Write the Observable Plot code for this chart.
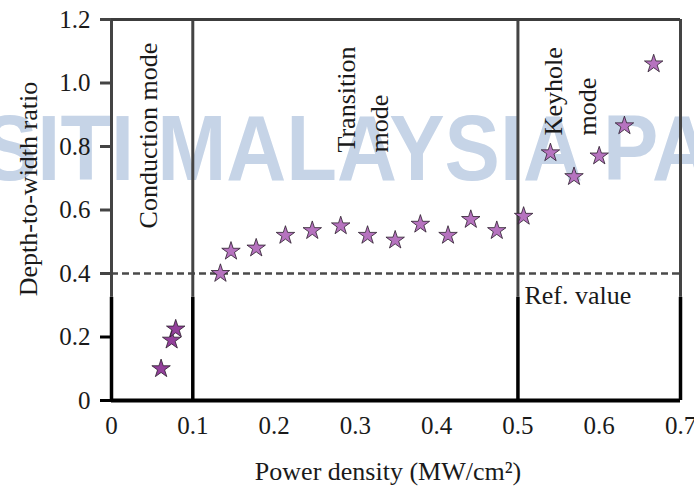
<!DOCTYPE html>
<html>
<head>
<meta charset="utf-8">
<script src="https://cdn.jsdelivr.net/npm/d3@7"></script>
<script src="https://cdn.jsdelivr.net/npm/@observablehq/plot@0.6"></script>
<style>
  html, body { margin: 0; padding: 0; background: #fff; }
  #chart { width: 694px; height: 487px; overflow: hidden; }
</style>
</head>
<body>
<div id="chart"></div>
<script>
// Depth-to-width ratio of the weld against laser power density, split by welding mode
const conductionPower = [0.061, 0.074, 0.079];
const conductionRatio = [0.10, 0.19, 0.225];

const transitionPower = [0.134, 0.147, 0.178, 0.214, 0.247, 0.282, 0.315, 0.349, 0.380, 0.414, 0.442, 0.474];
const transitionRatio = [0.40, 0.47, 0.48, 0.52, 0.535, 0.55, 0.52, 0.505, 0.555, 0.52, 0.57, 0.535];

const keyholePower = [0.507, 0.540, 0.569, 0.600, 0.631, 0.667];
const keyholeRatio = [0.58, 0.78, 0.705, 0.77, 0.865, 1.06];

// Mode boundaries (MW/cm²) and the reference depth-to-width ratio
const modeBounds = [0.1, 0.5];
const refValue = 0.4;

const xTicks = [0, 0.1, 0.2, 0.3, 0.4, 0.5, 0.6, 0.7];
const yTicks = [0, 0.2, 0.4, 0.6, 0.8, 1.0, 1.2];

const toRows = (xs, ys) => xs.map((p, i) => ({power: p, ratio: ys[i]}));
const conduction = toRows(conductionPower, conductionRatio);
const transition = toRows(transitionPower, transitionRatio);
const keyhole = toRows(keyholePower, keyholeRatio);

const xMin = xTicks[0], xMax = xTicks[xTicks.length - 1];
const yMax = yTicks[yTicks.length - 1];
const frameLines = [xMin, ...modeBounds, xMax];
const fmt = d => d === 0 ? "0" : d.toFixed(1);
const split = 0.325; // lower part of the vertical lines is drawn heavier

const starStyle = {x: "power", y: "ratio", symbol: "star", r: 5.8, stroke: "#2b1d2c", strokeWidth: 0.8};

const svg = Plot.plot({
  width: 694,
  height: 487,
  marginLeft: 111,
  marginRight: 14,
  marginTop: 19,
  marginBottom: 87,
  style: {fontFamily: "'Liberation Serif', 'Times New Roman', serif", color: "#1a1a1a", background: "#fff"},
  x: {domain: [xMin, xMax]},
  y: {domain: [0, yMax]},
  marks: [
    // reference ratio
    Plot.ruleY([refValue], {x1: xMin, x2: xMax, stroke: "#4a4a4a", strokeWidth: 2.5, strokeDasharray: "7,4"}),
    // frame and mode separators
    Plot.ruleX(frameLines, {y1: split, y2: yMax, stroke: "#444", strokeWidth: 3}),
    Plot.ruleX(frameLines, {y1: 0, y2: split, stroke: "#000", strokeWidth: 3.5}),
    Plot.ruleY([yMax], {x1: xMin, x2: xMax, stroke: "#3c3c3c", strokeWidth: 3}),
    Plot.ruleY([0], {x1: xMin, x2: xMax, stroke: "#000", strokeWidth: 4}),
    // axes
    Plot.axisY({
      ticks: yTicks, tickSize: 11, tickPadding: 10, tickFormat: fmt,
      stroke: d => d < 0.3 ? "#000" : "#444", strokeWidth: 3,
      fontSize: 25, label: null
    }),
    Plot.axisX({ticks: xTicks, tickSize: 0, tickPadding: 16, tickFormat: fmt, fontSize: 25, label: null}),
    // measurements
    Plot.dot(conduction, {...starStyle, fill: "#93409b"}),
    Plot.dot(transition, {...starStyle, fill: "#b673bf"}),
    Plot.dot(keyhole, {...starStyle, fill: "#b673bf"}),
    // mode annotations
    Plot.text(["Conduction mode"], {x: 0.046, y: 0.542, rotate: -90, textAnchor: "start", lineAnchor: "middle", fontSize: 26}),
    Plot.text(["Transition\nmode"], {x: 0.307, y: 0.781, rotate: -90, textAnchor: "start", lineAnchor: "middle", fontSize: 26, lineHeight: 1.28}),
    Plot.text(["Keyhole\nmode"], {x: 0.562, y: 0.835, rotate: -90, textAnchor: "start", lineAnchor: "middle", fontSize: 26, lineHeight: 1.28}),
    Plot.text(["Ref. value"], {x: 0.508, y: 0.331, textAnchor: "start", lineAnchor: "middle", fontSize: 26}),
    // axis titles
    Plot.text(["Depth-to-width ratio"], {frameAnchor: "left", textAnchor: "middle", lineAnchor: "middle", rotate: -90, dx: -83, dy: -21, fontSize: 26}),
    Plot.text(["Power density (MW/cm²)"], {frameAnchor: "bottom", textAnchor: "middle", lineAnchor: "middle", dx: -8, dy: 71, fontSize: 26})
  ]
});

// repository watermark behind the chart
d3.select(svg).insert("text", ":first-child")
  .attr("x", -18)
  .attr("y", 180)
  .attr("text-anchor", "start")
  .attr("textLength", 730)
  .attr("lengthAdjust", "spacingAndGlyphs")
  .attr("font-family", "'Liberation Sans', Arial, sans-serif")
  .attr("font-weight", "bold")
  .attr("font-size", 92)
  .attr("fill", "#c6d4e7")
  .text("SITI MALAYSIA PA");

document.getElementById("chart").appendChild(svg);
</script>
</body>
</html>
